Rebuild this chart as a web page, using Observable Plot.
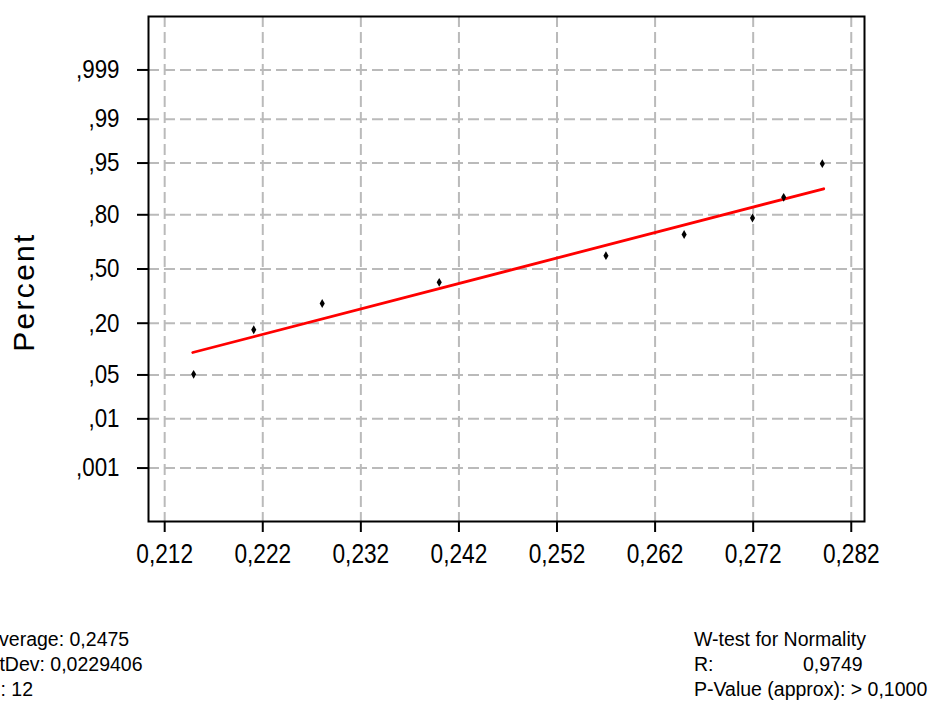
<!DOCTYPE html>
<html>
<head>
<meta charset="utf-8">
<script src="https://cdn.jsdelivr.net/npm/d3@7"></script>
<script src="https://cdn.jsdelivr.net/npm/@observablehq/plot@0.6"></script>
<style>
  html, body { margin: 0; padding: 0; background: #fff; }
  #wrap { position: relative; width: 933px; height: 704px; overflow: hidden; font-family: "Liberation Sans", Arial, sans-serif; }
  .stat { position: absolute; font-size: 19.5px; line-height: 25px; color: #000; white-space: pre; }
</style>
</head>
<body>
<div id="wrap"></div>
<script>
// ---- data ----
const sampleValues = [0.21495, 0.22108, 0.22806, 0.23999, 0.25699, 0.26496, 0.27193, 0.27511, 0.27905];
const samplePercent = [0.051, 0.173, 0.296, 0.418, 0.582, 0.704, 0.786, 0.867, 0.949];
const fitValues = [0.21486, 0.27919];
const fitPercent = [0.0974, 0.8935];
const xTicks = [0.212, 0.222, 0.232, 0.242, 0.252, 0.262, 0.272, 0.282];
const yTickPercent = [0.001, 0.01, 0.05, 0.20, 0.50, 0.80, 0.95, 0.99, 0.999];
const yTickLabels = [",001", ",01", ",05", ",20", ",50", ",80", ",95", ",99", ",999"];
const statsLeft = ["Average: 0,2475", "StDev: 0,0229406", "N: 12"];
const statsRight = ["W-test for Normality", "R:\t0,9749", "P-Value (approx): > 0,1000"];

// inverse normal CDF (Acklam)
function probit(p) {
  const a = [-3.969683028665376e+01, 2.209460984245205e+02, -2.759285104469687e+02, 1.383577518672690e+02, -3.066479806614716e+01, 2.506628277459239e+00];
  const b = [-5.447609879822406e+01, 1.615858368580409e+02, -1.556989798598866e+02, 6.680131188771972e+01, -1.328068155288572e+01];
  const c = [-7.784894002430293e-03, -3.223964580411365e-01, -2.400758277161838e+00, -2.549732539343734e+00, 4.374664141464968e+00, 2.938163982698783e+00];
  const d = [7.784695709041462e-03, 3.224671290700398e-01, 2.445134137142996e+00, 3.754408661907416e+00];
  const pl = 0.02425, ph = 1 - pl;
  let q, r;
  if (p < pl) { q = Math.sqrt(-2 * Math.log(p)); return (((((c[0]*q+c[1])*q+c[2])*q+c[3])*q+c[4])*q+c[5]) / ((((d[0]*q+d[1])*q+d[2])*q+d[3])*q+1); }
  if (p > ph) { q = Math.sqrt(-2 * Math.log(1 - p)); return -(((((c[0]*q+c[1])*q+c[2])*q+c[3])*q+c[4])*q+c[5]) / ((((d[0]*q+d[1])*q+d[2])*q+d[3])*q+1); }
  q = p - 0.5; r = q * q;
  return (((((a[0]*r+a[1])*r+a[2])*r+a[3])*r+a[4])*r+a[5])*q / (((((b[0]*r+b[1])*r+b[2])*r+b[3])*r+b[4])*r+1);
}

const points = sampleValues.map((v, i) => ({x: v, z: probit(samplePercent[i])}));
const fit = fitValues.map((v, i) => ({x: v, z: probit(fitPercent[i])}));
const yTickZ = yTickPercent.map(probit);
const labelOf = new Map(yTickZ.map((z, i) => [z, yTickLabels[i]]));

const plot = Plot.plot({
  width: 933,
  height: 580,
  marginTop: 16,
  marginBottom: 59,
  marginLeft: 148,
  marginRight: 69,
  style: {fontFamily: "'Liberation Sans', Arial, sans-serif", fontSize: "27px", background: "white", color: "black"},
  x: {domain: [0.21035, 0.28335], ticks: xTicks, tickFormat: d => d3.format(".3f")(d).replace(".", ","), tickSize: 11, tickPadding: 11, label: null},
  y: {domain: [-3.92, 3.92], ticks: yTickZ, tickFormat: z => labelOf.get(z), tickSize: 11, tickPadding: 18, label: null},
  marks: [
    Plot.ruleX(xTicks, {stroke: "#bababa", strokeWidth: 2, strokeDasharray: "11,5"}),
    Plot.ruleY(yTickZ, {stroke: "#bababa", strokeWidth: 2, strokeDasharray: "11,5"}),
    Plot.line(fit, {x: "x", y: "z", stroke: "#ff0000", strokeWidth: 2.8}),
    Plot.dot(points, {x: "x", y: "z", symbol: "diamond", r: 2.7, fill: "black", stroke: null}),
    Plot.frame({stroke: "black", strokeWidth: 2}),
    Plot.text(["Percent"], {frameAnchor: "left", dx: -124, dy: 23, rotate: -90, fontSize: 30, fill: "black", textAnchor: "middle"})
  ]
});

const wrap = document.getElementById("wrap");
wrap.appendChild(plot);

// axis styling: thicker ticks, condensed tick labels
plot.querySelectorAll('[aria-label="x-axis"] line, [aria-label="y-axis"] line, [aria-label="x-axis tick"] path, [aria-label="y-axis tick"] path').forEach(el => {
  el.setAttribute("stroke-width", 2);
  el.style.strokeWidth = "2px";
});
function condense(sel, size, factor) {
  plot.querySelectorAll(sel).forEach(t => {
    t.setAttribute("font-size", size);
    t.style.fontSize = size + "px";
    const w = t.getComputedTextLength();
    t.setAttribute("textLength", (w * factor).toFixed(2));
    t.setAttribute("lengthAdjust", "spacingAndGlyphs");
  });
}
condense('[aria-label="x-axis"] text, [aria-label="x-axis tick label"] text', 28, 0.81);
condense('[aria-label="y-axis"] text, [aria-label="y-axis tick label"] text', 26, 0.86);
plot.querySelectorAll('[aria-label="text"] text').forEach(t => t.style.letterSpacing = "2.3px");

// statistics below the chart (the left block is cut at the page edge, as in the reference)
statsLeft.forEach((s, i) => {
  const d = document.createElement("div");
  d.className = "stat";
  d.textContent = s;
  d.style.left = "-13.6px";
  d.style.top = (627 + i * 25) + "px";
  wrap.appendChild(d);
});
statsRight.forEach((s, i) => {
  const d = document.createElement("div");
  d.className = "stat";
  d.style.left = "694px";
  d.style.top = (627 + i * 25) + "px";
  if (s.includes("\t")) {
    const [a, b] = s.split("\t");
    d.textContent = a;
    const v = document.createElement("span");
    v.textContent = b;
    v.style.position = "absolute";
    v.style.left = "109px";
    d.appendChild(v);
  } else d.textContent = s;
  wrap.appendChild(d);
});
</script>
</body>
</html>
